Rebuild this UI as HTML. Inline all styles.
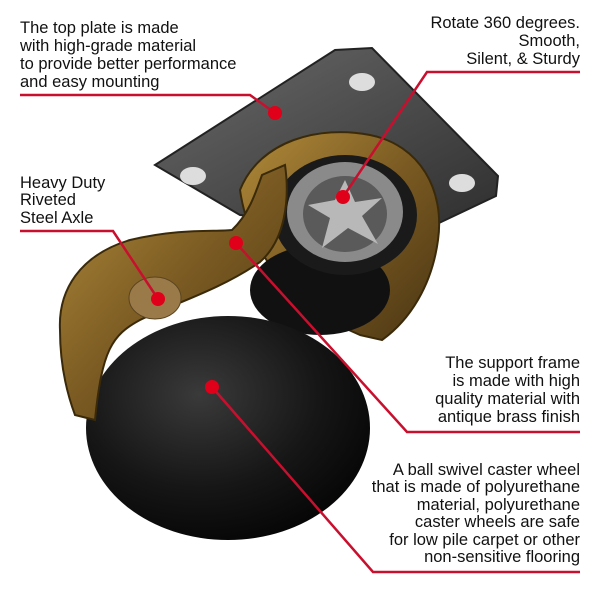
<!DOCTYPE html>
<html><head><style>
body{margin:0;background:#fff;width:600px;height:600px;overflow:hidden;font-family:"Liberation Sans",sans-serif}
svg{position:absolute;left:0;top:0}
</style></head><body>
<svg width="600" height="600" viewBox="0 0 600 600">
<defs>
<radialGradient id="ball" cx="0.4" cy="0.35" r="0.7"><stop offset="0" stop-color="#3a3a3a"/><stop offset="0.6" stop-color="#161616"/><stop offset="1" stop-color="#050505"/></radialGradient>
<linearGradient id="brass" x1="0" y1="0" x2="1" y2="1"><stop offset="0" stop-color="#b08a3a"/><stop offset="0.5" stop-color="#7a5a22"/><stop offset="1" stop-color="#4a3512"/></linearGradient>
<linearGradient id="plate" x1="0" y1="0" x2="1" y2="1"><stop offset="0" stop-color="#6a6a6a"/><stop offset="1" stop-color="#2e2e2e"/></linearGradient>
</defs>
<polygon points="155,165 335,50 372,48 498,176 496,196 420,232 240,215" fill="url(#plate)" stroke="#222" stroke-width="2"/>
<ellipse cx="193" cy="176" rx="13" ry="9" fill="#ddd"/>
<ellipse cx="362" cy="82" rx="13" ry="9" fill="#ddd"/>
<ellipse cx="462" cy="183" rx="13" ry="9" fill="#ddd"/>
<path d="M240,190 C260,140 320,125 370,135 C420,145 445,190 438,240 C432,285 410,320 382,340 L360,335 C300,310 250,260 240,190Z" fill="url(#brass)" stroke="#3a2a0a" stroke-width="2"/>
<ellipse cx="320" cy="290" rx="70" ry="45" fill="#111"/>
<ellipse cx="345" cy="215" rx="72" ry="60" fill="#1a1a1a"/>
<ellipse cx="345" cy="212" rx="58" ry="50" fill="#8a8a8a"/>
<ellipse cx="345" cy="214" rx="42" ry="38" fill="#5a5a5a"/>
<polygon points="345,180 355,202 382,198 362,216 378,244 348,228 322,248 330,218 308,205 335,200" fill="#b8b8b8"/>
<ellipse cx="228" cy="428" rx="142" ry="112" fill="url(#ball)"/>
<path d="M60,330 C58,290 80,255 130,240 C180,228 215,232 232,230 C248,215 255,195 262,175 L285,165 C290,200 285,240 260,262 C220,290 170,305 140,320 C112,335 102,350 95,420 L75,415 C62,380 60,350 60,330Z" fill="url(#brass)" stroke="#3a2a0a" stroke-width="2"/>
<ellipse cx="155" cy="298" rx="26" ry="21" fill="#9a7a48" stroke="#5a4420"/>
<g stroke="#c8102e" stroke-width="2.5" fill="none">
<polyline points="20,95 250,95 275,113"/>
<polyline points="580,72 427,72 343,197"/>
<polyline points="20,231 113,231 158,299"/>
<polyline points="236,243 407,432 580,432"/>
<polyline points="212,387 373,572 580,572"/>
</g>
<g fill="#e0001a">
<circle cx="275" cy="113" r="7"/><circle cx="343" cy="197" r="7"/><circle cx="158" cy="299" r="7"/><circle cx="236" cy="243" r="7"/><circle cx="212" cy="387" r="7"/>
</g>
<g font-size="16.5" fill="#111">
<text x="20" y="33">The top plate is made</text>
<text x="20" y="51">with high-grade material</text>
<text x="20" y="69">to provide better performance</text>
<text x="20" y="87">and easy mounting</text>
<text x="20" y="188">Heavy Duty</text>
<text x="20" y="205">Riveted</text>
<text x="20" y="223">Steel Axle</text>
<g text-anchor="end">
<text x="580" y="28">Rotate 360 degrees.</text>
<text x="580" y="46">Smooth,</text>
<text x="580" y="64">Silent, &amp; Sturdy</text>
<text x="580" y="368">The support frame</text>
<text x="580" y="386">is made with high</text>
<text x="580" y="404">quality material with</text>
<text x="580" y="422">antique brass finish</text>
<text x="580" y="475">A ball swivel caster wheel</text>
<text x="580" y="492">that is made of polyurethane</text>
<text x="580" y="510">material, polyurethane</text>
<text x="580" y="527">caster wheels are safe</text>
<text x="580" y="545">for low pile carpet or other</text>
<text x="580" y="562">non-sensitive flooring</text>
</g></g>
</svg>
</body></html>
